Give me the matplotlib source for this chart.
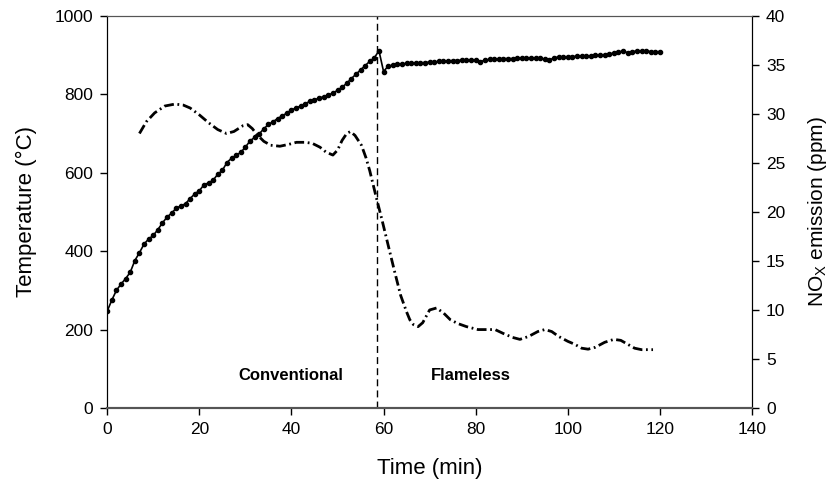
import matplotlib
matplotlib.use("Agg")
import matplotlib.pyplot as plt
import numpy as np

plt.rcParams['font.family'] = ['Liberation Sans', 'DejaVu Sans']
plt.rcParams['mathtext.fontset'] = 'custom'
plt.rcParams['mathtext.rm'] = 'Liberation Sans'
plt.rcParams['mathtext.it'] = 'Liberation Sans'
plt.rcParams['lines.scale_dashes'] = False

# temperature, one reading per minute
time_temp = np.arange(0, 121)
temperature = [
    247, 275, 300, 316, 330, 346, 376, 396, 418, 431,
    440, 455, 472, 487, 497, 510, 515, 521, 534, 546,
    554, 569, 574, 581, 596, 606, 626, 637, 644, 652,
    665, 681, 690, 699, 712, 723, 730, 738, 745, 752,
    760, 765, 770, 776, 782, 786, 790, 794, 798, 803,
    810, 818, 828, 840, 851, 862, 873, 884, 893, 911,
    858, 872, 874, 876, 877, 879, 879, 880, 880, 881,
    882, 882, 884, 884, 885, 886, 886, 887, 887, 887,
    887, 883, 887, 889, 890, 890, 891, 891, 891, 892,
    892, 893, 893, 893, 892, 889, 887, 893, 895, 895,
    896, 896, 897, 897, 898, 898, 899, 900, 901, 903,
    905, 908, 910, 906, 909, 910, 911, 910, 909, 908,
    909,
]

# NOx emission
time_nox = [
    7.0, 8.5, 10.3, 12.5, 14.7, 16.5, 18.0, 20.0, 22.0, 24.0,
    25.9, 27.5, 29.5, 30.5, 31.5, 32.5, 34.0, 35.5, 37.5, 39.5,
    41.1, 43.0, 44.5, 46.2, 47.5, 49.0, 50.0, 51.0, 52.0, 52.8,
    53.8, 55.2, 56.2, 57.0, 58.3, 59.6, 61.0, 62.3, 63.7, 65.0,
    65.7, 66.5, 67.5, 68.5, 70.0, 71.5, 73.0, 74.5, 76.2, 78.0,
    80.5, 82.5, 84.2, 86.0, 88.0, 89.6, 91.5, 93.5, 95.0, 96.5,
    98.0, 100.0, 101.5, 103.0, 104.4, 106.0, 108.0, 110.0, 111.5, 113.0,
    114.5, 116.0, 118.5,
]
nox = [
    28.0, 29.2, 30.1, 30.8, 31.0, 30.9, 30.6, 29.9, 29.1, 28.4,
    28.0, 28.2, 28.8, 28.9, 28.5, 27.9, 27.2, 26.8, 26.7, 26.9,
    27.1, 27.1, 27.0, 26.6, 26.1, 25.8, 26.3, 27.3, 28.0, 28.2,
    27.8, 26.8, 25.5, 24.2, 21.7, 19.3, 16.6, 14.1, 11.5, 9.8,
    9.0, 8.5, 8.3, 8.7, 10.0, 10.2, 9.7, 9.0, 8.6, 8.3,
    8.0, 8.0, 8.0, 7.6, 7.2, 7.0, 7.3, 7.8, 8.0, 7.8,
    7.3, 6.8, 6.5, 6.1, 6.0, 6.2, 6.7, 7.0, 6.9, 6.5,
    6.1, 5.95, 5.95,
]

switch_time = 58.5

fig = plt.figure(figsize=(8.31, 4.8), dpi=100)
ax = fig.add_axes([0.129, 0.15, 0.776, 0.817])

ax.plot(time_temp, temperature, color='black', lw=1.2,
        marker='o', markersize=3.0, zorder=3)
ax.axvline(switch_time, color='black', lw=1.0, dashes=(5, 3))

ax.set_xlim(0, 140)
ax.set_ylim(0, 1000)
ax.set_xticks(np.arange(0, 141, 20))
ax.set_yticks(np.arange(0, 1001, 200))
ax.set_xlabel('Time (min)', fontsize=16, labelpad=15)
ax.set_ylabel('Temperature (°C)', fontsize=16, labelpad=13)
ax.tick_params(direction='out', length=5, pad=5, labelsize=12.5, width=1)

ax.text(39.9, 82, 'Conventional', ha='center', va='center',
        fontsize=12, fontweight='bold')
ax.text(79, 82, 'Flameless', ha='center', va='center',
        fontsize=12, fontweight='bold')

ax2 = ax.twinx()
ax2.plot(time_nox, nox, color='black', lw=2.0, dashes=(7, 2.6, 1.3, 2.6))
ax2.set_ylim(0, 40)
ax2.set_yticks(np.arange(0, 41, 5))
ax2.set_ylabel(r'NO$_\mathrm{X}$ emission (ppm)', fontsize=15, labelpad=15)
ax2.tick_params(direction='out', length=5, pad=5, labelsize=12.5, width=1)

for a in (ax, ax2):
    a.spines['top'].set_color('#555555')
    a.spines['bottom'].set_color('#555555')
    a.spines['bottom'].set_linewidth(1.5)

fig.savefig('out.png', dpi=100)
